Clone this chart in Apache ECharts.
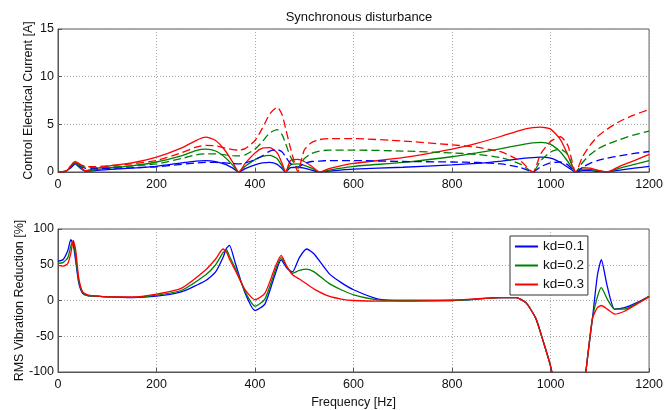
<!DOCTYPE html>
<html>
<head>
<meta charset="utf-8">
<script src="https://cdn.jsdelivr.net/npm/echarts@6/dist/echarts.min.js"></script>
<style>html,body{margin:0;padding:0;background:#fff;}#c{width:666px;height:410px;}</style>
</head>
<body>
<div id="c"></div>
<script>
// ---- data ----
var titleText = 'Synchronous disturbance';
var xTicks = [0, 200, 400, 600, 800, 1000, 1200];
var topYTicks = [0, 5, 10, 15];
var bottomYTicks = [-100, -50, 0, 50, 100];
var legendNames = ['kd=0.1', 'kd=0.2', 'kd=0.3'];

var topFreq = [0,15,25,35,45,55,70,100,150,200,250,280,300,320,340,355,367,380,400,415,430,445,455,462,472,487,500,515,531,550,600,700,800,850,900,940,964,980,1000,1020,1035,1051,1065,1080,1095,1115,1140,1170,1200];

var topBlueSolid = [0,0.05,0.4,0.85,0.4,0.1,0.12,0.25,0.4,0.6,0.95,1.15,1.2,1.1,0.8,0.4,0,0.35,0.75,0.95,1.0,0.8,0.35,0,0.45,0.5,0.4,0.2,0,0.1,0.3,0.5,0.75,0.9,1.15,1.4,1.5,1.55,1.45,1.0,0.5,0,0.15,0.15,0.08,0,0.2,0.4,0.58];
var topGreenSolid = [0,0.05,0.45,0.95,0.5,0.12,0.2,0.4,0.65,1.05,1.7,2.25,2.4,2.2,1.5,0.7,0,0.6,1.3,1.65,1.75,1.4,0.6,0,0.75,0.85,0.7,0.4,0,0.2,0.6,1.0,1.6,2.0,2.45,2.85,3.05,3.1,2.9,2.1,1.1,0,0.3,0.28,0.15,0,0.4,0.8,1.2];
var topRedSolid = [0,0.05,0.5,1.1,0.6,0.15,0.3,0.6,0.95,1.55,2.5,3.3,3.65,3.3,2.2,1.0,0,0.9,2.0,2.5,2.55,2.0,0.9,0,1.2,1.33,1.1,0.6,0,0.35,0.9,1.5,2.4,3.0,3.75,4.4,4.65,4.7,4.5,3.4,1.8,0,0.45,0.4,0.2,0,0.6,1.2,1.85];
var topBlueDashed = [0,0.1,0.45,0.9,0.6,0.4,0.35,0.38,0.45,0.55,0.8,0.95,1.0,1.0,0.95,0.88,0.85,0.95,1.3,1.7,2.2,2.35,2.1,1.6,0.9,0.5,0.9,1.1,1.15,1.2,1.2,1.1,1.05,1.0,0.85,0.45,0,0.55,0.95,1.05,0.75,0,0.5,0.9,1.2,1.45,1.7,1.95,2.15];
var topGreenDashed = [0,0.1,0.5,1.0,0.7,0.5,0.45,0.5,0.65,0.85,1.4,1.8,1.9,1.9,1.8,1.72,1.7,1.8,2.4,3.2,4.1,4.45,3.9,3.0,1.6,0.4,1.4,1.95,2.2,2.3,2.3,2.2,2.0,1.85,1.5,0.8,0,1.2,2.1,2.4,1.8,0,1.0,1.8,2.4,2.9,3.4,3.9,4.3];
var topRedDashed = [0,0.1,0.6,1.15,0.8,0.6,0.55,0.65,0.85,1.2,2.0,2.6,2.8,2.75,2.5,2.35,2.3,2.45,3.3,4.6,6.1,6.8,6.0,4.6,2.5,0.05,2.3,3.1,3.4,3.5,3.5,3.25,2.85,2.6,2.1,1.1,0,1.9,3.2,3.7,2.8,0,1.6,2.8,3.7,4.5,5.3,6.0,6.55];

var bottomFreq = [0,10,20,26,31,36,42,50,60,80,100,150,200,250,300,320,335,342,348,360,380,400,420,440,453,465,476,490,505,520,550,575,600,650,700,800,900,930,950,970,985,1000,1010,1040,1065,1075,1085,1095,1103,1115,1130,1150,1175,1200];
var reductionKd01 = [55,57,70,85,78,55,25,10,7,6,5,4,6,12,28,40,60,73,77,52,10,-14,-5,35,57,45,40,60,72,65,38,25,15,2,0,0,4,4,-3,-25,-57,-92,-130,-300,-140,-80,-25,35,57,20,-12,-10,-3,6];
var reductionKd02 = [52,53,60,76,83,60,28,11,7,6,5,4.5,7.5,14,36,50,67,71,62,45,12,-8,2,40,60,47,38,42,44,40,24,15,8,1,0,0,4,4,-3,-25,-57,-92,-130,-300,-140,-80,-25,5,18,2,-12,-12,-4,6];
var reductionKd03 = [49,48,52,66,84,70,32,12,8,6,5,5,9,17,43,58,72,68,58,42,15,1,10,45,63,47,36,30,23,16,6,2,0,-1,-1,0.5,4,4,-3,-25,-57,-92,-130,-300,-140,-80,-25,-10,-7,-12,-19,-15,-5,5];

// ---- helpers ----
function pairs(xs, ys) { return xs.map(function (x, i) { return [x, ys[i]]; }); }
var BLUE = '#0000ff', GREEN = '#008000', RED = '#ff0000';
var FONT = 'Liberation Sans, Arial, sans-serif';
var axisCol = '#555';
function plain(v) { return String(v); }

function xAxisDef(gridIndex, name) {
  return {
    type: 'value', gridIndex: gridIndex, min: xTicks[0], max: xTicks[xTicks.length - 1],
    interval: xTicks[1] - xTicks[0],
    name: name || '', nameLocation: 'middle', nameGap: 24, nameMoveOverlap: false,
    nameTextStyle: { fontFamily: FONT, fontSize: 12.5, color: '#111' },
    axisLine: { show: true, onZero: false, lineStyle: { color: axisCol, width: 1 } },
    axisTick: { show: true, inside: true, length: 4, lineStyle: { color: axisCol } },
    axisLabel: { fontFamily: FONT, fontSize: 12.5, color: '#111', margin: 6, formatter: plain },
    splitLine: { show: true, lineStyle: { color: '#aaa', type: [1, 2], width: 1 } }
  };
}
function yAxisDef(gridIndex, ticks, name, gap) {
  return {
    type: 'value', gridIndex: gridIndex, min: ticks[0], max: ticks[ticks.length - 1],
    interval: ticks[1] - ticks[0],
    name: name, nameLocation: 'middle', nameGap: gap, nameRotate: 90, nameMoveOverlap: false,
    nameTextStyle: { fontFamily: FONT, fontSize: 12.5, color: '#111' },
    axisLine: { show: true, onZero: false, lineStyle: { color: axisCol, width: 1 } },
    axisTick: { show: true, inside: true, length: 4, lineStyle: { color: axisCol } },
    axisLabel: { fontFamily: FONT, fontSize: 12.5, color: '#111', margin: 4, formatter: plain },
    splitLine: { show: true, lineStyle: { color: '#aaa', type: [1, 2], width: 1 } }
  };
}
function lineSeries(name, xi, yi, xs, ys, color, dashed) {
  return {
    name: name, type: 'line', xAxisIndex: xi, yAxisIndex: yi,
    data: pairs(xs, ys), showSymbol: false, symbol: 'none', smooth: 0.2, clip: true,
    lineStyle: { color: color, width: 1.3, type: dashed ? [8, 4] : 'solid' },
    itemStyle: { color: color }, animation: false, z: 3
  };
}

var chart = echarts.init(document.getElementById('c'), null, { renderer: 'canvas' });
chart.setOption({
  animation: false,
  backgroundColor: '#fff',
  title: {
    text: titleText, left: 354, top: 6, textAlign: 'center',
    textStyle: { fontFamily: FONT, fontSize: 13, fontWeight: 'normal', color: '#111' }
  },
  legend: {
    data: legendNames, orient: 'vertical', left: 510, top: 236,
    padding: [3, 4, 3, 5], itemGap: 4, itemWidth: 23, itemHeight: 2, icon: 'rect',
    borderColor: '#333', borderWidth: 1, backgroundColor: '#fff',
    textStyle: { fontFamily: FONT, fontSize: 13.5, color: '#111', lineHeight: 15 }
  },
  grid: [
    { left: 58, top: 29, width: 592, height: 143, show: true, borderColor: axisCol, borderWidth: 1, backgroundColor: '#fff' },
    { left: 58, top: 229, width: 592, height: 143, show: true, borderColor: axisCol, borderWidth: 1, backgroundColor: '#fff' }
  ],
  xAxis: [xAxisDef(0), xAxisDef(1, 'Frequency [Hz]')],
  yAxis: [
    yAxisDef(0, topYTicks, 'Control Electrical Current [A]', 23),
    yAxisDef(1, bottomYTicks, 'RMS Vibration Reduction [%]', 32)
  ],
  series: [
    lineSeries('cur kd=0.1', 0, 0, topFreq, topBlueSolid, BLUE, false),
    lineSeries('cur kd=0.2', 0, 0, topFreq, topGreenSolid, GREEN, false),
    lineSeries('cur kd=0.3', 0, 0, topFreq, topRedSolid, RED, false),
    lineSeries('cur2 kd=0.1', 0, 0, topFreq, topBlueDashed, BLUE, true),
    lineSeries('cur2 kd=0.2', 0, 0, topFreq, topGreenDashed, GREEN, true),
    lineSeries('cur2 kd=0.3', 0, 0, topFreq, topRedDashed, RED, true),
    lineSeries(legendNames[0], 1, 1, bottomFreq, reductionKd01, BLUE, false),
    lineSeries(legendNames[1], 1, 1, bottomFreq, reductionKd02, GREEN, false),
    lineSeries(legendNames[2], 1, 1, bottomFreq, reductionKd03, RED, false)
  ]
});
</script>
</body>
</html>
